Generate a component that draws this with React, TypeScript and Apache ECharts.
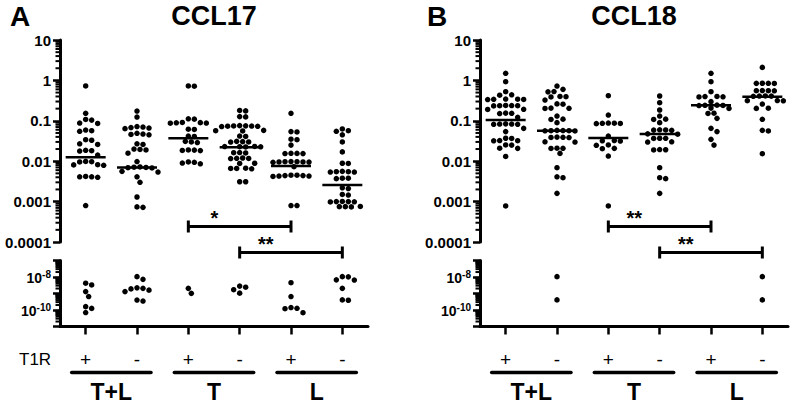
import React, { useEffect, useRef } from 'react';
import * as echarts from 'echarts';

const FONT = 'Arial, "Liberation Sans", Helvetica, sans-serif';

const groupLabels = ['T+L', 'T', 'L'];
const t1rLabels = ['+', '-', '+', '-', '+', '-'];
const upperTickLabels = ['10', '1', '0.1', '0.01', '0.001', '0.0001'];
const panelLetters = ['A', 'B'];
const panelTitles = ['CCL17', 'CCL18'];

// CCL17 (panel A)
const ccl17_TLpos = [0.73, 0.153, 0.108, 0.104, 0.088, 0.086, 0.059, 0.057, 0.055, 0.034, 0.033, 0.027, 0.026, 0.0186, 0.0182, 0.0178, 0.0142, 0.0099, 0.0097, 0.0096, 0.0082, 0.0081, 0.0079, 0.0042, 0.0041, 0.0041, 0.004, 0.0008, 4.2e-9, 3.3e-9, 1.3e-9, 6.5e-10, 1.6e-10, 1.25e-10, 7e-11];
const ccl17_TLneg = [0.174, 0.124, 0.072, 0.07, 0.068, 0.066, 0.064, 0.049, 0.047, 0.046, 0.045, 0.027, 0.026, 0.02, 0.0195, 0.019, 0.0158, 0.0098, 0.0072, 0.0071, 0.007, 0.0069, 0.0068, 0.0056, 0.0054, 0.0041, 0.003, 0.0013, 0.00074, 0.00072, 1.05e-8, 7.2e-9, 2.2e-9, 2.05e-9, 1.9e-9, 1.6e-9, 1.3e-9, 4e-10, 3.5e-10];
const ccl17_Tpos = [0.73, 0.72, 0.112, 0.11, 0.091, 0.09, 0.089, 0.088, 0.087, 0.062, 0.061, 0.042, 0.041, 0.031, 0.03, 0.029, 0.019, 0.0188, 0.0185, 0.0183, 0.0096, 0.0094, 0.009, 0.0086, 2.05e-9, 1.02e-9];
const ccl17_Tneg = [0.18, 0.176, 0.127, 0.125, 0.076, 0.075, 0.0745, 0.074, 0.0735, 0.073, 0.072, 0.058, 0.057, 0.056, 0.042, 0.041, 0.031, 0.0305, 0.03, 0.0298, 0.0232, 0.023, 0.0229, 0.0227, 0.0225, 0.0164, 0.0162, 0.016, 0.012, 0.0118, 0.0117, 0.0116, 0.0089, 0.0088, 0.0067, 0.0066, 0.0066, 0.0065, 0.0031, 0.0031, 2.8e-9, 2.4e-9, 1.7e-9, 1.05e-9];
const ccl17_Lpos = [0.153, 0.054, 0.053, 0.035, 0.034, 0.025, 0.0157, 0.0156, 0.0155, 0.0154, 0.0098, 0.0097, 0.0097, 0.0096, 0.0096, 0.0095, 0.0094, 0.0073, 0.0045, 0.0045, 0.0044, 0.0044, 0.0043, 0.0043, 0.0042, 0.0008, 0.0008, 4.5e-9, 6.5e-10, 1.4e-10, 1.26e-10, 1.2e-10, 6.9e-11];
const ccl17_Lneg = [0.063, 0.057, 0.055, 0.045, 0.03, 0.017, 0.0089, 0.0088, 0.0056, 0.0055, 0.0055, 0.0054, 0.0054, 0.0038, 0.0038, 0.0037, 0.0022, 0.0021, 0.0015, 0.00145, 0.00101, 0.001, 0.001, 0.00099, 0.00098, 0.00076, 0.00075, 0.00075, 0.00074, 1.05e-8, 1.02e-8, 6.7e-9, 6.5e-9, 2.05e-9, 4.1e-10, 3.9e-10];
const ccl17Medians = [0.0125, 0.007, 0.0368, 0.022, 0.0076, 0.00258];
const ccl17Sig = ['*', '**'];

// CCL18 (panel B)
const ccl18_TLpos = [1.5, 0.93, 0.525, 0.44, 0.43, 0.345, 0.342, 0.34, 0.338, 0.335, 0.24, 0.238, 0.237, 0.236, 0.234, 0.193, 0.191, 0.155, 0.153, 0.151, 0.122, 0.084, 0.083, 0.083, 0.082, 0.082, 0.065, 0.054, 0.037, 0.0366, 0.0325, 0.0322, 0.032, 0.0253, 0.025, 0.021, 0.0208, 0.0131, 0.00078];
const ccl18_TLneg = [0.726, 0.6, 0.53, 0.52, 0.4, 0.395, 0.39, 0.327, 0.262, 0.258, 0.206, 0.204, 0.202, 0.131, 0.11, 0.108, 0.09, 0.058, 0.0575, 0.057, 0.0568, 0.0565, 0.056, 0.0395, 0.039, 0.0388, 0.0385, 0.0302, 0.0298, 0.021, 0.0209, 0.0207, 0.0156, 0.0069, 0.0041, 0.0039, 0.0016, 1.05e-8, 4.1e-10];
const ccl18_Tpos = [0.419, 0.139, 0.088, 0.087, 0.0865, 0.086, 0.085, 0.042, 0.0325, 0.032, 0.0315, 0.0252, 0.0248, 0.0208, 0.0204, 0.0134, 0.00078];
const ccl18_Tneg = [0.411, 0.281, 0.185, 0.131, 0.11, 0.108, 0.09, 0.06, 0.0595, 0.0588, 0.058, 0.0475, 0.0465, 0.037, 0.0368, 0.0365, 0.0302, 0.0298, 0.0194, 0.0192, 0.019, 0.0069, 0.0039, 0.0037, 0.0016];
const ccl18_Lpos = [1.5, 0.93, 0.525, 0.4, 0.398, 0.393, 0.39, 0.298, 0.244, 0.242, 0.24, 0.238, 0.206, 0.202, 0.154, 0.152, 0.115, 0.065, 0.054, 0.0347, 0.025];
const ccl18_Lneg = [2.1, 0.85, 0.848, 0.845, 0.842, 0.56, 0.557, 0.555, 0.552, 0.412, 0.41, 0.408, 0.405, 0.317, 0.315, 0.312, 0.26, 0.205, 0.203, 0.109, 0.058, 0.056, 0.0153, 1.05e-8, 4.1e-10];
const ccl18Medians = [0.105, 0.057, 0.0375, 0.047, 0.241, 0.395];
const ccl18Sig = ['**', '**'];

// comparisons (column numbers 1..6)
const sigFrom = [3, 4];
const sigTo = [5, 6];

const CUTOFF = 1e-4;

// layout
const PANEL_LEFT = [60, 480];
const GRID_W = 308;
const UP_TOP = 40;
const UP_H = 202;
const LO_TOP = 260.5;
const LO_H = 66;
const X_UNIT = GRID_W / 6;
const DOT = 5.5;

function swarm(vals: number[], col: number, pxPerDecade: number): number[][] {
  const lv = vals.map((v) => Math.log10(v)).sort((a, b) => b - a);
  const placed: { x: number; y: number }[] = [];
  const D = 5.8;
  const H = 3;
  const out: number[][] = [];
  for (const l of lv) {
    const y = l * pxPerDecade;
    let off = 0;
    for (let k = 0; k < 60; k++) {
      const m = Math.ceil(k / 2) * H;
      const cand = k === 0 ? 0 : k % 2 === 1 ? m : -m;
      if (placed.every((p) => (p.x - cand) ** 2 + (p.y - y) ** 2 >= D * D)) {
        off = cand;
        break;
      }
    }
    placed.push({ x: off, y });
    out.push([col + off / X_UNIT, l]);
  }
  return out;
}

function minorTicks(from: number, to: number): number[][] {
  const out: number[][] = [];
  for (let n = from; n < to; n++) {
    for (let k = 2; k <= 9; k++) out.push([0.5, n + Math.log10(k)]);
  }
  return out;
}

function buildOption() {
  const panels = [
    { cols: [ccl17_TLpos, ccl17_TLneg, ccl17_Tpos, ccl17_Tneg, ccl17_Lpos, ccl17_Lneg], medians: ccl17Medians, sig: ccl17Sig },
    { cols: [ccl18_TLpos, ccl18_TLneg, ccl18_Tpos, ccl18_Tneg, ccl18_Lpos, ccl18_Lneg], medians: ccl18Medians, sig: ccl18Sig },
  ];
  const grid: any[] = [];
  const xAxis: any[] = [];
  const yAxis: any[] = [];
  const series: any[] = [];
  const graphic: any[] = [];

  const axisLine = { show: true, onZero: false, lineStyle: { color: '#000', width: 3 } };
  const axisTick = { show: true, length: 7, lineStyle: { color: '#000', width: 2.5 } };

  panels.forEach((pd, p) => {
    const left = PANEL_LEFT[p];
    const gU = grid.length;
    grid.push({ left, top: UP_TOP, width: GRID_W, height: UP_H });
    const gL = grid.length;
    grid.push({ left, top: LO_TOP, width: GRID_W, height: LO_H });

    const xU = xAxis.length;
    xAxis.push({ type: 'value', gridIndex: gU, min: 0.5, max: 6.5, show: false });
    const xL = xAxis.length;
    xAxis.push({ type: 'value', gridIndex: gL, min: 0.5, max: 6.5, show: false });
    xAxis.push({
      type: 'category',
      gridIndex: gL,
      data: t1rLabels,
      position: 'bottom',
      axisLine,
      axisTick: { show: true, alignWithLabel: true, length: 8, lineStyle: { color: '#000', width: 2.5 } },
      axisLabel: { margin: 23, fontSize: 19, color: '#000', fontFamily: FONT, interval: 0 },
      splitLine: { show: false },
    });

    const yU = yAxis.length;
    yAxis.push({
      type: 'value',
      gridIndex: gU,
      min: -4,
      max: 1,
      interval: 1,
      axisLine,
      axisTick,
      splitLine: { show: false },
      axisLabel: {
        margin: 9,
        color: '#000',
        fontSize: 15,
        fontWeight: 'bold',
        fontFamily: FONT,
        formatter: (v: number) => upperTickLabels[Math.round(1 - v)] ?? '',
      },
    });
    const yL = yAxis.length;
    yAxis.push({
      type: 'value',
      gridIndex: gL,
      min: -11,
      max: -7,
      interval: 1,
      axisLine,
      axisTick,
      splitLine: { show: false },
      axisLabel: {
        margin: 9,
        color: '#000',
        formatter: (v: number) => (v === -8 || v === -10 ? `{b|10}{s|${v}}` : ''),
        rich: {
          b: { fontSize: 14, fontWeight: 'bold', fontFamily: FONT, color: '#000', lineHeight: 16, verticalAlign: 'bottom' },
          s: { fontSize: 10, fontWeight: 'bold', fontFamily: FONT, color: '#000', lineHeight: 10, verticalAlign: 'top' },
        },
      },
    });

    const upperPts = pd.cols.flatMap((arr, c) => swarm(arr.filter((v) => v >= CUTOFF), c + 1, UP_H / 5));
    const lowerPts = pd.cols.flatMap((arr, c) => swarm(arr.filter((v) => v < CUTOFF), c + 1, LO_H / 4));

    const dotStyle = { color: '#000', opacity: 1 };
    series.push({
      type: 'scatter', xAxisIndex: xU, yAxisIndex: yU, data: upperPts,
      symbol: 'circle', symbolSize: DOT, itemStyle: dotStyle, silent: true,
    });
    series.push({
      type: 'scatter', xAxisIndex: xL, yAxisIndex: yL, data: lowerPts,
      symbol: 'circle', symbolSize: DOT, itemStyle: dotStyle, silent: true,
    });
    series.push({
      type: 'scatter', xAxisIndex: xU, yAxisIndex: yU,
      data: pd.medians.map((m, i) => [i + 1, Math.log10(m)]),
      symbol: 'rect', symbolSize: [40, 2.5], itemStyle: dotStyle, silent: true, z: 3,
    });

    const minorRender = (params: any, api: any) => {
      const pt = api.coord([api.value(0), api.value(1)]);
      return {
        type: 'line',
        shape: { x1: pt[0] - 4.5, y1: pt[1], x2: pt[0], y2: pt[1] },
        style: { stroke: '#000', lineWidth: 2 },
      };
    };
    series.push({ type: 'custom', xAxisIndex: xU, yAxisIndex: yU, clip: false, silent: true, data: minorTicks(-4, 1), renderItem: minorRender });
    series.push({ type: 'custom', xAxisIndex: xL, yAxisIndex: yL, clip: false, silent: true, data: minorTicks(-11, -7), renderItem: minorRender });

    // significance brackets
    const sigLabels = pd.sig;
    series.push({
      type: 'custom', xAxisIndex: xU, yAxisIndex: yU, clip: false, silent: true,
      data: sigFrom.map((f, i) => [f, -4, sigTo[i]]),
      renderItem: (params: any, api: any) => {
        const i = params.dataIndex;
        const a = api.coord([sigFrom[i], -4]);
        const b = api.coord([sigTo[i], -4]);
        const y = a[1] + (i === 0 ? -15.5 : 10.5);
        const st = { stroke: '#000', lineWidth: 3 };
        return {
          type: 'group',
          children: [
            { type: 'line', shape: { x1: a[0], y1: y, x2: b[0], y2: y }, style: st },
            { type: 'line', shape: { x1: a[0], y1: y - 6, x2: a[0], y2: y + 6 }, style: st },
            { type: 'line', shape: { x1: b[0], y1: y - 6, x2: b[0], y2: y + 6 }, style: st },
            {
              type: 'text', x: a[0] + 26, y: y - 9,
              style: { text: sigLabels[i], font: `bold 20px ${FONT}`, fill: '#000', align: 'center', verticalAlign: 'middle', textAlign: 'center', textVerticalAlign: 'middle' },
            },
          ],
        };
      },
    });

    // group underlines + labels
    series.push({
      type: 'custom', xAxisIndex: xL, yAxisIndex: yL, clip: false, silent: true,
      data: groupLabels.map((g, i) => [2 * i + 1.5, -11]),
      renderItem: (params: any, api: any) => {
        const i = params.dataIndex;
        const a = api.coord([2 * i + 1, -11]);
        const b = api.coord([2 * i + 2, -11]);
        const y = a[1];
        return {
          type: 'group',
          children: [
            { type: 'line', shape: { x1: a[0] - 14, y1: y + 46, x2: b[0] + 14, y2: y + 46 }, style: { stroke: '#000', lineWidth: 3.5, lineCap: 'round' } },
            {
              type: 'text', x: (a[0] + b[0]) / 2, y: y + 65,
              style: { text: groupLabels[i], font: `bold 23px ${FONT}`, fill: '#000', align: 'center', verticalAlign: 'middle', textAlign: 'center', textVerticalAlign: 'middle' },
            },
          ],
        };
      },
    });

    graphic.push({
      type: 'text', x: left - 50 + (p === 0 ? 0 : -3), y: 16,
      style: { text: panelLetters[p], font: `bold 28px ${FONT}`, fill: '#000', align: 'left', verticalAlign: 'middle' },
    });
    graphic.push({
      type: 'text', x: left + GRID_W / 2, y: 16,
      style: { text: panelTitles[p], font: `bold 27px ${FONT}`, fill: '#000', align: 'center', verticalAlign: 'middle' },
    });
  });

  graphic.push({
    type: 'text', x: 19, y: 359,
    style: { text: 'T1R', font: `17px ${FONT}`, fill: '#000', align: 'left', verticalAlign: 'middle' },
  });

  return {
    animation: false,
    backgroundColor: '#fff',
    grid,
    xAxis,
    yAxis,
    series,
    graphic,
  };
}

export default function App() {
  const ref = useRef<HTMLDivElement>(null);
  useEffect(() => {
    if (!ref.current) return;
    const chart = echarts.init(ref.current, undefined, { renderer: 'svg' });
    chart.setOption(buildOption() as any);
    return () => chart.dispose();
  }, []);
  return <div ref={ref} style={{ position: 'absolute', left: 0, top: 0, width: 793, height: 404, background: '#fff' }} />;
}
